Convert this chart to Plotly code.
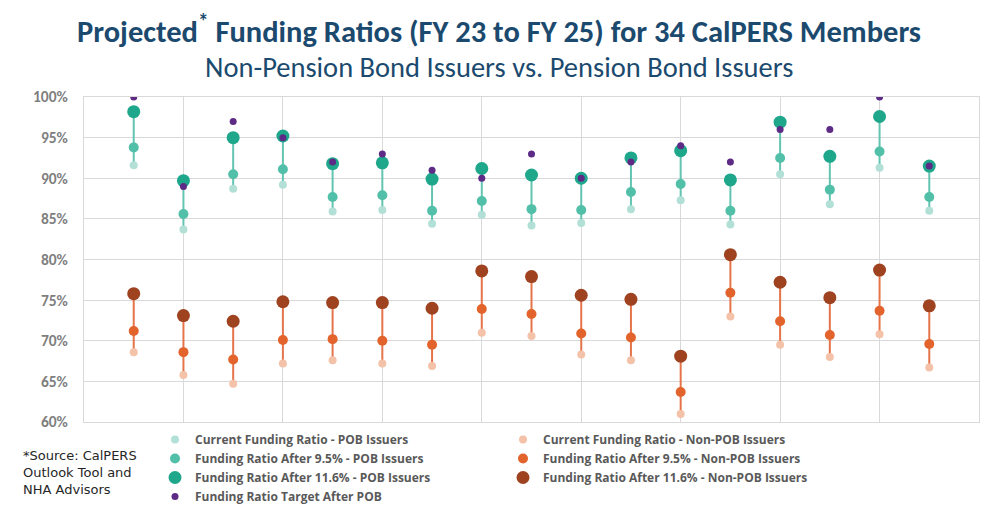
import plotly.graph_objects as go

# --- data (percent) ---
members = list(range(1, 18))

pob_current = [91.6, 83.7, 88.7, 89.2, 85.9, 86.1, 84.4, 85.5, 84.2, 84.5, 86.2, 87.3, 84.3, 90.5, 86.8, 91.3, 86.0]
pob_95      = [93.8, 85.6, 90.5, 91.1, 87.7, 87.9, 86.0, 87.2, 86.2, 86.1, 88.3, 89.3, 86.0, 92.5, 88.6, 93.3, 87.7]
pob_116     = [98.2, 89.7, 95.0, 95.2, 91.8, 91.9, 89.9, 91.2, 90.4, 90.0, 92.5, 93.4, 89.8, 96.9, 92.7, 97.6, 91.5]
pob_target  = [100.0, 89.0, 97.0, 95.0, 92.0, 93.0, 91.0, 90.0, 93.0, 90.0, 92.0, 94.0, 92.0, 96.0, 96.0, 100.0, 91.5]

non_current = [68.6, 65.8, 64.7, 67.2, 67.6, 67.2, 66.9, 71.0, 70.6, 68.3, 67.6, 61.0, 73.0, 69.5, 68.0, 70.8, 66.7]
non_95      = [71.2, 68.6, 67.7, 70.1, 70.2, 70.0, 69.5, 73.9, 73.3, 70.9, 70.4, 63.7, 75.9, 72.4, 70.7, 73.7, 69.6]
non_116     = [75.8, 73.1, 72.4, 74.8, 74.7, 74.7, 74.0, 78.6, 77.9, 75.6, 75.1, 68.1, 80.6, 77.2, 75.3, 78.7, 74.3]

y_ticks = [60, 65, 70, 75, 80, 85, 90, 95, 100]
y_tick_labels = [f"{v}%" for v in y_ticks]

FONT = "Carlito, 'Liberation Sans Narrow', 'Open Sans', sans-serif"
LEG_FONT = "'Open Sans', Carlito, sans-serif"

C_TEAL_L = "#b2e0d7"
C_TEAL_M = "#52bfa9"
C_TEAL_D = "#1ea78b"
C_TEAL_LINE = "#62c4b1"
C_PURPLE = "#5d2b85"
C_OR_L = "#f4c2a8"
C_OR_M = "#e2632b"
C_OR_D = "#9e4220"
C_OR_LINE = "#e5744a"

fig = go.Figure()

# connector lines via error bars attached to the lowest (current) series
pob_span = [h - c for h, c in zip(pob_116, pob_current)]
non_span = [h - c for h, c in zip(non_116, non_current)]

fig.add_trace(go.Scatter(
    x=members, y=pob_current, mode="markers", name="Current Funding Ratio - POB Issuers",
    marker=dict(color=C_TEAL_L, size=8),
    error_y=dict(type="data", symmetric=False, array=pob_span, arrayminus=[0]*17,
                 color=C_TEAL_LINE, thickness=2, width=0),
    legend="legend"))
fig.add_trace(go.Scatter(
    x=members, y=non_current, mode="markers", name="Current Funding Ratio - Non-POB Issuers",
    marker=dict(color=C_OR_L, size=8),
    error_y=dict(type="data", symmetric=False, array=non_span, arrayminus=[0]*17,
                 color=C_OR_LINE, thickness=2, width=0),
    legend="legend2"))
fig.add_trace(go.Scatter(
    x=members, y=pob_95, mode="markers", name="Funding Ratio After 9.5% - POB Issuers",
    marker=dict(color=C_TEAL_M, size=10), legend="legend"))
fig.add_trace(go.Scatter(
    x=members, y=non_95, mode="markers", name="Funding Ratio After 9.5% - Non-POB Issuers",
    marker=dict(color=C_OR_M, size=10), legend="legend2"))
fig.add_trace(go.Scatter(
    x=members, y=pob_116, mode="markers", name="Funding Ratio After 11.6% - POB Issuers",
    marker=dict(color=C_TEAL_D, size=13), legend="legend"))
fig.add_trace(go.Scatter(
    x=members, y=non_116, mode="markers", name="Funding Ratio After 11.6% - Non-POB Issuers",
    marker=dict(color=C_OR_D, size=13), legend="legend2"))
fig.add_trace(go.Scatter(
    x=members, y=pob_target, mode="markers", name="Funding Ratio Target After POB",
    marker=dict(color=C_PURPLE, size=7), legend="legend"))

# page body has an 8px margin: figure coords = screen coords - OFF
OFF = 8
W, H = 1001 - OFF, 518 - OFF
PL, PR, PT, PB = 84 - OFF, 979 - OFF, 97 - OFF, 422 - OFF
PW, PH = PR - PL, PB - PT
TITLE_CX = (499 - OFF - PL) / PW

legend_common = dict(
    orientation="v", bgcolor="rgba(0,0,0,0)",
    font=dict(family=LEG_FONT, size=12, color="#595959", weight="bold"),
    itemsizing="trace", itemwidth=30, tracegroupgap=0,
    xanchor="left", yanchor="top", traceorder="normal",
)

fig.update_layout(
    width=W, height=H,
    paper_bgcolor="white", plot_bgcolor="white",
    margin=dict(l=PL, r=W - PR, t=PT, b=H - PB, autoexpand=False),
    showlegend=True,
    legend=dict(x=(155 - OFF - PL) / PW, y=-3 / PH, **legend_common),
    legend2=dict(x=(503 - OFF - PL) / PW, y=-3 / PH, **legend_common),
    xaxis=dict(range=[0, 18], dtick=2, tick0=0, showticklabels=False, showgrid=True,
               gridcolor="#d9d9d9", gridwidth=1, zeroline=False,
               showline=True, linecolor="#d9d9d9", mirror=True, ticks=""),
    yaxis=dict(range=[60, 100], tickvals=y_ticks, ticktext=y_tick_labels,
               showgrid=True, gridcolor="#d9d9d9", gridwidth=1, zeroline=False,
               showline=True, linecolor="#d9d9d9", mirror=True, ticks="",
               ticklabelstandoff=12,
               tickfont=dict(family=FONT, size=15.5, color="#7f7f7f", weight="bold")),
    annotations=[
        dict(text="Projected<sup>*</sup> Funding Ratios (FY 23 to FY 25) for 34 CalPERS Members",
             xref="paper", yref="paper", x=TITLE_CX, y=1.0, xanchor="center", yanchor="middle",
             showarrow=False, yshift=68 + (PT - 89),
             font=dict(family=FONT, size=30.5, color="#1b4a6e", weight="bold")),
        dict(text="Non-Pension Bond Issuers vs. Pension Bond Issuers",
             xref="paper", yref="paper", x=TITLE_CX, y=1.0, xanchor="center", yanchor="middle",
             showarrow=False, yshift=30 + (PT - 89),
             font=dict(family=FONT, size=28.5, color="#1b4a6e")),
        dict(text="*Source: CalPERS<br>Outlook Tool and<br>NHA Advisors",
             xref="paper", yref="paper", x=(21 - OFF - PL) / PW, y=-(446 - OFF - PB) / PH,
             xanchor="left", yanchor="top",
             align="left", showarrow=False,
             font=dict(family="'DejaVu Sans', sans-serif", size=13, color="#262626")),
    ],
)

fig.write_html("out.html")
